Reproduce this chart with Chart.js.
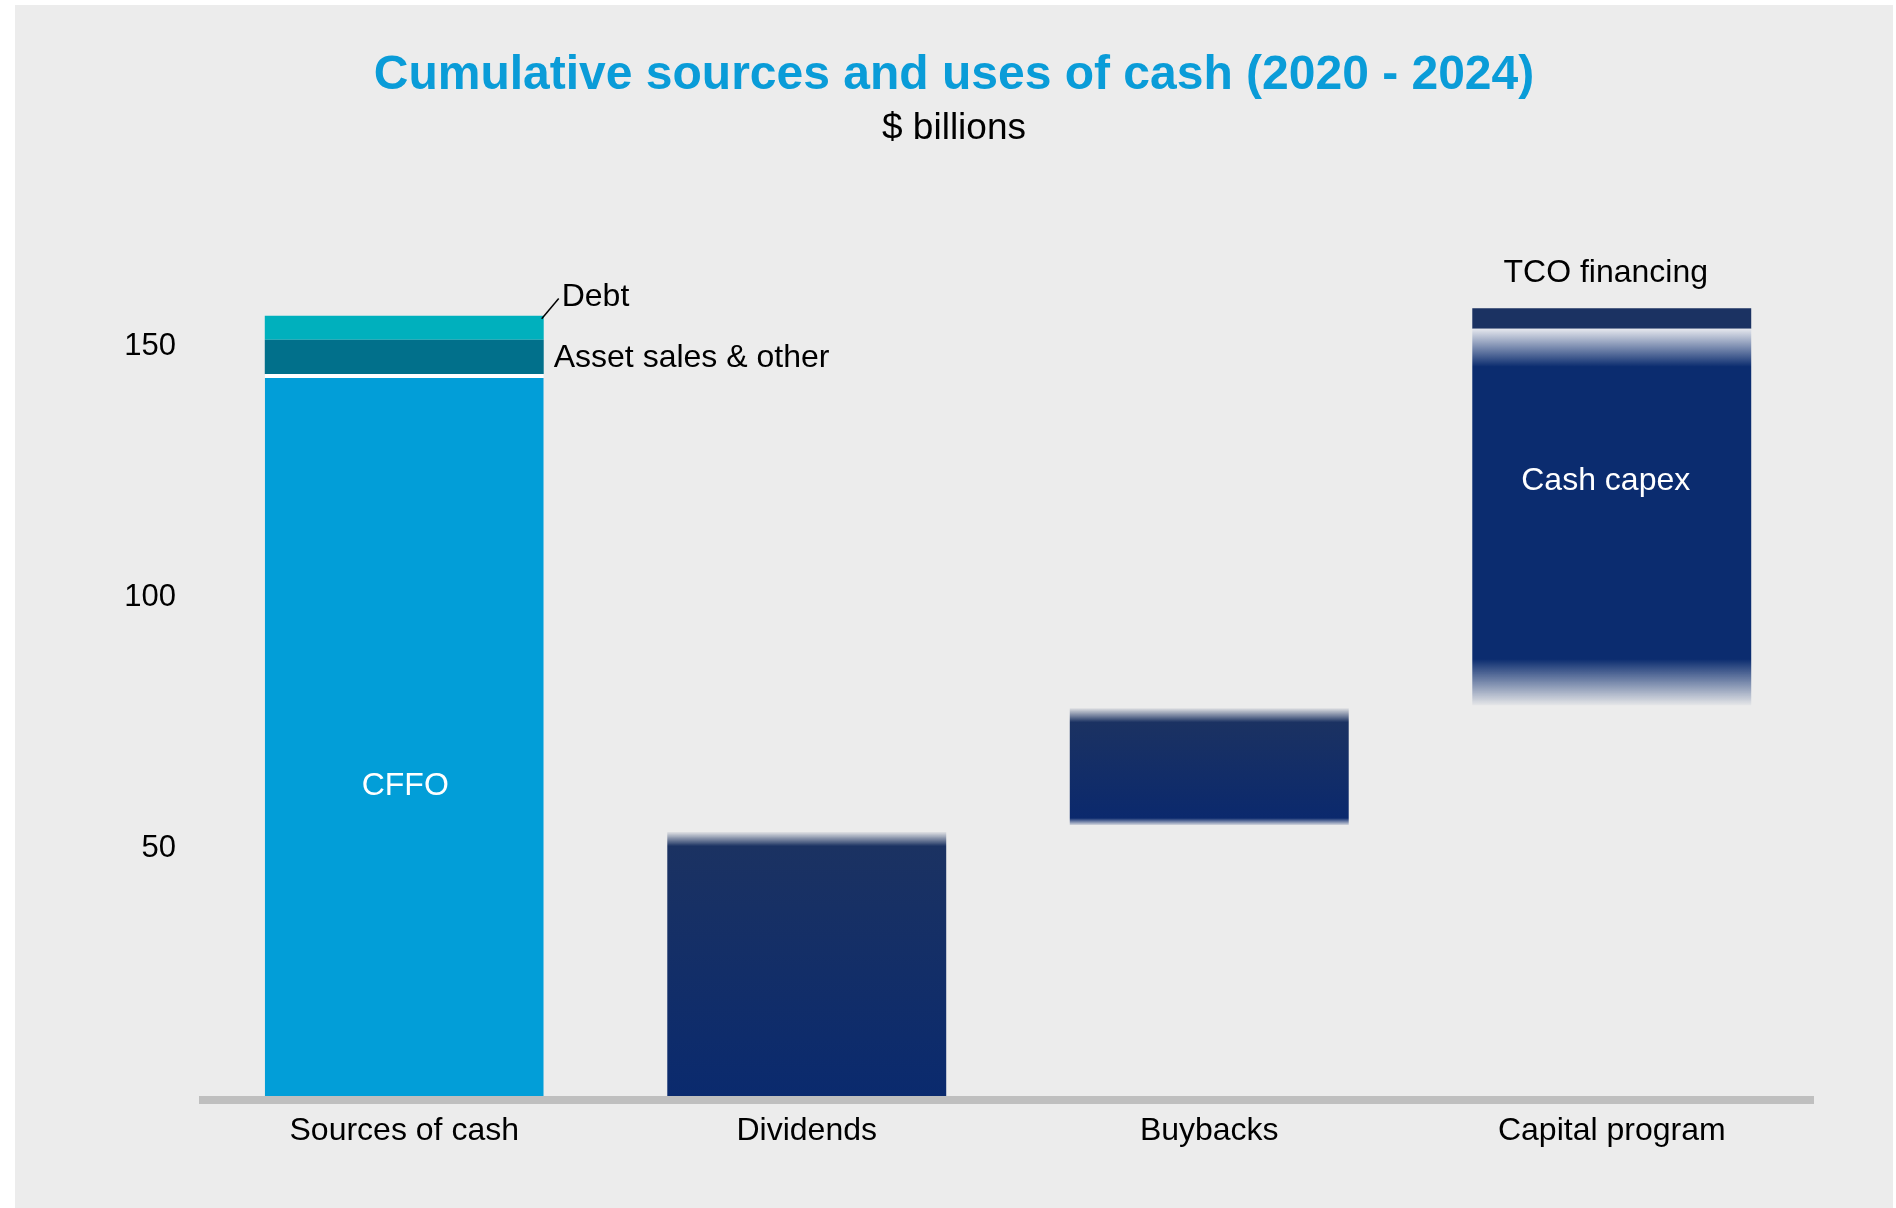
<!DOCTYPE html>
<html>
<head>
<meta charset="utf-8">
<script src="https://cdn.jsdelivr.net/npm/chart.js@4.4.1/dist/chart.umd.min.js"></script>
<style>
  html, body { margin: 0; padding: 0; background: #ffffff; }
  #wrap { position: absolute; left: 15px; top: 5px; width: 1878px; height: 1203px; background: #ececec; }
</style>
</head>
<body>
<div id="wrap"><canvas id="chartCash"></canvas></div>
<script>
  // values, $ billions, [from, to]
  var categories = ["Sources of cash", "Dividends", "Buybacks", "Capital program"];
  var cffo = [[0, 144.6], null, null, null];
  var assetSales = [[144.6, 151.4], null, null, null];
  var debt = [[151.4, 156.2], null, null, null];
  var dividends = [null, [0, 53.3], null, null];
  var buybacks = [null, null, [54.7, 78.0], null];
  var cashCapex = [null, null, null, [78.6, 153.6]];
  var tcoFinancing = [null, null, null, [153.6, 157.7]];
  var yTicks = [50, 100, 150];

  var FONT = "'Liberation Sans', Arial, sans-serif";
  Chart.defaults.font.family = FONT;
  Chart.defaults.color = '#000';

  // vertical fill with soft top / bottom edges, like the original slide
  function shadedFill(light, c0, c1, fadeTop, fadeBottom, lightBottom) {
    return function (ctx) {
      var chart = ctx.chart;
      var v = ctx.raw;
      if (!v || !chart.chartArea) return c0;
      var y = chart.scales.y;
      var yt = y.getPixelForValue(v[1]);
      var yb = y.getPixelForValue(v[0]);
      var h = Math.max(yb - yt, 1);
      var g = chart.ctx.createLinearGradient(0, yt, 0, yb);
      var ft = Math.min(fadeTop / h, 0.45);
      var fb = Math.min(fadeBottom / h, 0.45);
      g.addColorStop(0, light);
      g.addColorStop(ft, c0);
      g.addColorStop(1 - fb, c1);
      g.addColorStop(1, fadeBottom ? lightBottom : c1);
      return g;
    };
  }

  var data = {
    labels: categories,
    datasets: [
      {
        label: "CFFO",
        data: cffo,
        backgroundColor: "#029ed8",
        borderColor: "#ffffff",
        borderWidth: {top: 4, right: 0, bottom: 0, left: 0},
        borderSkipped: 'bottom'
      },
      {
        label: "Asset sales & other",
        data: assetSales,
        backgroundColor: "#01708b"
      },
      {
        label: "Debt",
        data: debt,
        backgroundColor: "#00b0bd"
      },
      {
        label: "Dividends",
        data: dividends,
        backgroundColor: shadedFill("rgba(27,50,98,0.06)", "#1b3262", "#0a2a6e", 14, 0, "#0a2a6e")
      },
      {
        label: "Buybacks",
        data: buybacks,
        backgroundColor: shadedFill("rgba(27,50,98,0.06)", "#1b3262", "#0b296d", 14, 7, "rgba(11,41,109,0.1)")
      },
      {
        label: "Cash capex",
        data: cashCapex,
        backgroundColor: shadedFill("#e6e8ee", "#0b2c6f", "#0b2c6f", 38, 46, "rgba(11,44,111,0.03)")
      },
      {
        label: "TCO financing",
        data: tcoFinancing,
        backgroundColor: "#1b3262"
      }
    ]
  };

  // text notes inside / beside the bars
  var notesPlugin = {
    id: 'notes',
    afterDatasetsDraw: function (chart) {
      var ctx = chart.ctx;
      var y = chart.scales.y;
      var src = chart.getDatasetMeta(0).data[0];
      var cap = chart.getDatasetMeta(5).data[3];
      var srcRight = src.x + src.width / 2;
      ctx.save();
      ctx.font = "32px " + FONT;
      ctx.textBaseline = 'middle';

      ctx.fillStyle = '#ffffff';
      ctx.textAlign = 'center';
      ctx.fillText("CFFO", src.x + 1, y.getPixelForValue(62.5));
      ctx.fillText("Cash capex", cap.x - 6, y.getPixelForValue(123.3));

      ctx.fillStyle = '#000000';
      ctx.fillText("TCO financing", cap.x - 6, y.getPixelForValue(164.6));
      ctx.textAlign = 'left';
      ctx.fillText("Debt", srcRight + 18, y.getPixelForValue(159.9));
      ctx.fillText("Asset sales & other", srcRight + 10, y.getPixelForValue(147.8));

      // leader line for Debt
      ctx.strokeStyle = '#000000';
      ctx.lineWidth = 1.5;
      ctx.beginPath();
      ctx.moveTo(srcRight - 2, y.getPixelForValue(155.6));
      ctx.lineTo(srcRight + 15, y.getPixelForValue(159.6));
      ctx.stroke();
      ctx.restore();
    }
  };

  var options = {
    responsive: true,
    maintainAspectRatio: false,
    animation: false,
    events: [],
    datasets: {
      bar: {
        grouped: false,
        categoryPercentage: 1,
        barPercentage: 0.693
      }
    },
    layout: {
      padding: {left: 0, right: 0, top: 0, bottom: 46}
    },
    scales: {
      x: {
        grid: {display: false, drawTicks: false},
        border: {display: true, color: '#bfbfbf', width: 8, z: 1},
        ticks: {
          padding: 12,
          color: '#000',
          font: {size: 32}
        }
      },
      y: {
        min: 0,
        max: 160,
        grid: {display: false, drawTicks: false},
        border: {display: false},
        afterBuildTicks: function (scale) {
          scale.ticks = yTicks.map(function (v) { return {value: v}; });
        },
        afterFit: function (scale) {
          scale.width = 188;
        },
        ticks: {
          padding: 27,
          color: '#000',
          font: {size: 31}
        }
      },
      // empty right margin so the title stays centred on the whole panel
      yRight: {
        position: 'right',
        display: true,
        grid: {display: false, drawTicks: false},
        border: {display: false},
        ticks: {display: false},
        afterFit: function (scale) {
          scale.width = 80;
        }
      }
    },
    plugins: {
      legend: {display: false},
      tooltip: {enabled: false},
      title: {
        display: true,
        text: 'Cumulative sources and uses of cash (2020 - 2024)',
        color: '#0a9cd8',
        font: {size: 48, weight: 'bold'},
        padding: {top: 41.5, bottom: 2.5}
      },
      subtitle: {
        display: true,
        text: '$ billions',
        color: '#000',
        font: {size: 37},
        padding: {top: 0, bottom: 145.6}
      }
    }
  };

  new Chart('chartCash', {
    type: 'bar',
    data: data,
    options: options,
    plugins: [notesPlugin]
  });
</script>
</body>
</html>
